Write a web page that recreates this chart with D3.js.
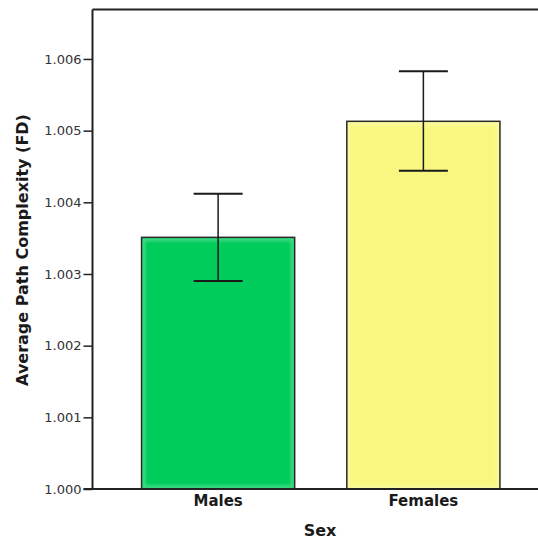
<!DOCTYPE html>
<html>
<head>
<meta charset="utf-8">
<script src="https://cdn.jsdelivr.net/npm/d3@7"></script>
<style>
	body { margin: 0; background: #fff; }
	svg { display: block; }
	text { font-family: "DejaVu Sans", Verdana, sans-serif; }
</style>
</head>
<body>
<div id="chart"></div>
<script>
const categories = ["Males", "Females"];
const means = [1.003511, 1.005130];
const ciLow = [1.002902, 1.004441];
const ciHigh = [1.004121, 1.005828];
const yTicks = [1.000, 1.001, 1.002, 1.003, 1.004, 1.005, 1.006];
const barColors = ["#00cc5c", "#f8f880"];

const width = 538, height = 540;
const plotLeft = 92.5, plotRight = 549, plotTop = 9.5, plotBottom = 489;

const svg = d3.select("#chart").append("svg")
	.attr("width", width)
	.attr("height", height);

// soft glow used for the bar edge highlight
svg.append("defs").append("filter")
	.attr("id", "soft")
	.append("feGaussianBlur")
	.attr("stdDeviation", 1.5);

const x = d3.scaleBand()
	.domain(categories)
	.range([plotLeft, plotRight])
	.paddingInner(0.254)
	.paddingOuter(0.239);

const y = d3.scaleLinear()
	.domain([1.000, 1.00669])
	.range([plotBottom, plotTop]);

// frame: top line
svg.append("line")
	.attr("x1", plotLeft).attr("x2", width)
	.attr("y1", plotTop).attr("y2", plotTop)
	.attr("stroke", "#222").attr("stroke-width", 2);

// bars
const bars = svg.append("g");
categories.forEach((c, i) => {
	const bx = x(c), bw = x.bandwidth();
	const by = y(means[i]);
	bars.append("rect")
		.attr("x", bx).attr("y", by)
		.attr("width", bw).attr("height", plotBottom - by)
		.attr("fill", barColors[i]);
	bars.append("rect")
		.attr("x", bx + 2).attr("y", by + 2)
		.attr("width", bw - 4).attr("height", plotBottom - by - 4)
		.attr("fill", "none")
		.attr("stroke", "#fff").attr("stroke-opacity", 0.3).attr("stroke-width", 3)
		.attr("filter", "url(#soft)");
	bars.append("rect")
		.attr("x", bx).attr("y", by)
		.attr("width", bw).attr("height", plotBottom - by)
		.attr("fill", "none")
		.attr("stroke", "#2a2a2a").attr("stroke-width", 1.5);
});

// error bars
const capHalf = 24.5;
const err = svg.append("g").attr("stroke", "#1a1a1a").attr("stroke-width", 1.5);
categories.forEach((c, i) => {
	const cx = x(c) + x.bandwidth() / 2;
	err.append("line")
		.attr("x1", cx).attr("x2", cx)
		.attr("y1", y(ciHigh[i])).attr("y2", y(ciLow[i]));
	[ciHigh[i], ciLow[i]].forEach(v => {
		err.append("line")
			.attr("x1", cx - capHalf).attr("x2", cx + capHalf)
			.attr("y1", y(v)).attr("y2", y(v))
			.attr("stroke-width", 2);
	});
});

// y axis
const yAxis = svg.append("g")
	.attr("transform", `translate(${plotLeft},0)`)
	.call(d3.axisLeft(y).tickValues(yTicks).tickFormat(d3.format(".3f")).tickSize(9).tickPadding(2));
yAxis.select(".domain")
	.attr("d", `M0,${plotTop}V${plotBottom}`)
	.attr("stroke", "#222").attr("stroke-width", 2);
yAxis.selectAll(".tick line").attr("stroke", "#222").attr("stroke-width", 1.5);
yAxis.selectAll(".tick text")
	.attr("font-size", 13)
	.attr("fill", "#333")
	.attr("font-family", "DejaVu Sans, sans-serif");

// x axis line
svg.append("line")
	.attr("x1", plotLeft - 9).attr("x2", width)
	.attr("y1", plotBottom).attr("y2", plotBottom)
	.attr("stroke", "#222").attr("stroke-width", 2.2);

// x category labels
svg.append("g").selectAll("text")
	.data(categories)
	.join("text")
	.attr("x", d => x(d) + x.bandwidth() / 2)
	.attr("y", 505.5)
	.attr("text-anchor", "middle")
	.attr("font-size", 15)
	.attr("font-weight", "bold")
	.attr("fill", "#1a1a1a")
	.text(d => d);

// axis titles
svg.append("text")
	.attr("x", 320)
	.attr("y", 536)
	.attr("text-anchor", "middle")
	.attr("font-size", 16)
	.attr("font-weight", "bold")
	.attr("fill", "#1a1a1a")
	.text("Sex");

svg.append("text")
	.attr("transform", "translate(28,250) rotate(-90)")
	.attr("text-anchor", "middle")
	.attr("font-size", 16)
	.attr("font-weight", "bold")
	.attr("fill", "#1a1a1a")
	.text("Average Path Complexity (FD)");
</script>
</body>
</html>
